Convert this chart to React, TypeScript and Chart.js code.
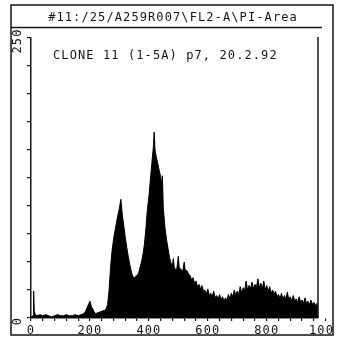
import React, { useEffect, useRef } from "react";
import { Chart, registerables } from "chart.js";

Chart.register(...registerables);

const TITLE = "#11:/25/A259R007\\FL2-A\\PI-Area";
const SUBTITLE = "CLONE 11 (1-5A) p7, 20.2.92";

// FL2-A channel (x) and event count (y)
const channels = [
  0, 7, 9, 11, 15, 20, 30, 40, 50, 60, 70, 80, 90,
  100, 110, 120, 130, 140, 150, 160, 170, 180, 185, 190, 195,
  200, 205, 210, 215, 220, 230, 240, 250, 255, 260, 265, 270, 275, 280, 285, 290, 295,
  300, 305, 310, 315, 320, 325, 330, 335, 340, 345, 350, 355, 360, 365, 370, 375, 380, 385, 390, 395,
  400, 405, 410, 415, 418, 421, 425, 430, 435, 440, 443, 446, 449, 455, 460, 465, 470, 475, 480, 483, 486, 490, 495,
  500, 503, 510, 515, 520, 523, 530, 535, 540, 545, 550, 555, 560, 565, 570, 575, 580, 585, 590, 595,
  600, 605, 610, 615, 620, 625, 630, 635, 640, 645, 650, 655, 660, 665, 670, 675, 680, 685, 690, 695,
  700, 705, 710, 715, 720, 725, 730, 735, 740, 745, 750, 755, 760, 765, 770, 775, 780, 785, 790, 795,
  800, 805, 810, 815, 820, 825, 830, 835, 840, 845, 850, 855, 860, 865, 870, 875, 880, 885, 890, 895,
  900, 905, 910, 915, 920, 925, 930, 935, 940, 945, 950, 955, 960, 965, 970, 974,
];

const counts = [
  1, 2, 24, 6, 3, 2, 3, 2, 3, 2, 1, 2, 3,
  2, 2, 3, 2, 2, 3, 2, 3, 4, 6, 9, 12,
  15, 10, 8, 5, 4, 5, 6, 7, 8, 12, 25, 45, 60, 70, 78, 85, 92,
  98, 106, 92, 82, 72, 63, 55, 48, 42, 37, 36, 37, 38, 40, 45, 50, 57, 66, 80, 97,
  108, 123, 138, 152, 166, 150, 144, 138, 132, 126, 120, 127, 98, 80, 70, 62, 54, 49, 47, 53, 46, 43, 44,
  55, 45, 43, 42, 50, 43, 42, 39, 38, 34, 36, 31, 33, 28, 30, 26, 29, 24, 25, 21,
  26, 20, 22, 19, 24, 18, 20, 17, 21, 16, 19, 15, 18, 16, 21, 17, 22, 19, 25, 20,
  24, 21, 28, 22, 27, 24, 33, 25, 29, 26, 32, 26, 30, 27, 35, 27, 31, 26, 33, 25,
  29, 24, 28, 22, 25, 21, 24, 19, 21, 17, 22, 17, 20, 17, 23, 16, 19, 15, 20, 15,
  17, 14, 19, 14, 16, 13, 18, 13, 15, 12, 16, 12, 14, 11, 13, 10,
];

const xMajorLabels = [0, 200, 400, 600, 800, 1000];
const xMinorStep = 40;
const xMax = 974;
const yLabels = [0, 250];
const yStep = 25;
const yMax = 250;

const FONT = "'DejaVu Sans Mono', monospace";
const INK = "#151515";

const framePlugin = {
  id: "frame",
  beforeUpdate(chart: any) {
    (chart.ctx as any).letterSpacing = "1.1px";
  },
  beforeDraw(chart: any) {
    const ctx = chart.ctx;
    ctx.save();
    ctx.fillStyle = "#ffffff";
    ctx.fillRect(0, 0, chart.width, chart.height);
    ctx.restore();
    (ctx as any).letterSpacing = "1.1px";
  },
  afterDraw(chart: any) {
    const ctx = chart.ctx;
    const area = chart.chartArea;
    ctx.save();
    ctx.fillStyle = "#ffffff";
    ctx.fillRect(334, 0, chart.width - 334, chart.height);
    ctx.strokeStyle = INK;
    ctx.lineWidth = 1.5;
    ctx.strokeRect(11, 5, 322, 330);
    ctx.beginPath();
    ctx.moveTo(11, 27.5);
    ctx.lineTo(322, 27.5);
    ctx.stroke();
    ctx.beginPath();
    ctx.moveTo(area.right, 37);
    ctx.lineTo(area.right, area.bottom);
    ctx.stroke();
    (ctx as any).letterSpacing = "1.1px";
    ctx.fillStyle = INK;
    ctx.font = `12px ${FONT}`;
    ctx.textBaseline = "middle";
    ctx.textAlign = "center";
    ctx.fillText(TITLE, 173, 17.5);
    ctx.textAlign = "left";
    ctx.fillText(SUBTITLE, 53, 56);
    ctx.restore();
  },
};

export default function App() {
  const ref = useRef<HTMLCanvasElement>(null);
  useEffect(() => {
    if (!ref.current) return;
    const data = channels.map((c, i) => ({ x: c, y: counts[i] }));
    const chart = new Chart(ref.current, {
      type: "line",
      data: {
        datasets: [
          {
            data,
            borderColor: "#000",
            backgroundColor: "#000",
            borderWidth: 1,
            pointRadius: 0,
            fill: "origin",
            tension: 0,
          },
        ],
      },
      options: {
        animation: false,
        responsive: false,
        devicePixelRatio: 1,
        layout: { padding: { left: 0, right: 23, top: 38, bottom: 0 } },
        plugins: {
          legend: { display: false },
          tooltip: { enabled: false },
          title: { display: false },
        },
        scales: {
          x: {
            type: "linear",
            min: 0,
            max: xMax,
            afterBuildTicks: (s: any) => {
              const t: any[] = [];
              for (let v = 0; v <= 1000; v += xMinorStep) t.push({ value: v });
              s.ticks = t;
            },
            afterFit: (s: any) => {
              s.height = 19;
              s.paddingLeft = 0;
              s.paddingRight = 0;
            },
            ticks: {
              autoSkip: false,
              maxRotation: 0,
              minRotation: 0,
              padding: 3,
              color: INK,
              font: { family: FONT, size: 12 },
              callback: (v: any) => (xMajorLabels.includes(Number(v)) ? String(v) : ""),
            },
            grid: {
              drawOnChartArea: false,
              drawTicks: true,
              tickLength: 3,
              color: INK,
              lineWidth: 1.2,
            },
            border: { display: true, color: INK, width: 1.5 },
          },
          y: {
            type: "linear",
            min: 0,
            max: yMax,
            afterBuildTicks: (s: any) => {
              const t: any[] = [];
              for (let v = 0; v <= yMax; v += yStep) t.push({ value: v });
              s.ticks = t;
            },
            afterFit: (s: any) => {
              s.width = 31;
              s.paddingTop = 0;
              s.paddingBottom = 0;
            },
            ticks: {
              autoSkip: false,
              minRotation: 90,
              maxRotation: 90,
              crossAlign: "center",
              padding: -3,
              labelOffset: 3,
              color: INK,
              font: { family: FONT, size: 12 },
              callback: (v: any) => (yLabels.includes(Number(v)) ? String(v) : ""),
            },
            grid: {
              drawOnChartArea: false,
              drawTicks: true,
              tickLength: 4,
              color: INK,
              lineWidth: 1.2,
            },
            border: { display: true, color: INK, width: 1.5 },
          },
        },
      },
      plugins: [framePlugin],
    } as any);
    return () => chart.destroy();
  }, []);
  return (
    <div style={{ position: "absolute", left: 0, top: 0, width: 341, height: 337, background: "#fff" }}>
      <canvas ref={ref} width={341} height={337} style={{ width: 341, height: 337, display: "block" }} />
    </div>
  );
}
